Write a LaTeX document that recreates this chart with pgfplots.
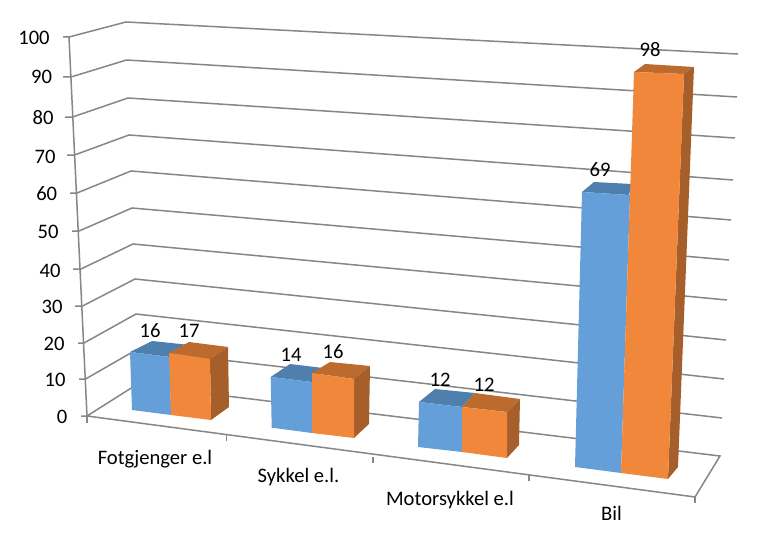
\documentclass[border=0pt]{standalone}
\usepackage{pgfplots}
\pgfplotsset{compat=1.18}
\usepackage{fontspec}
\setmainfont{Carlito}
\definecolor{gridc}{HTML}{868686}
\definecolor{bluef}{HTML}{659FD9}
\definecolor{bluet}{HTML}{4F80AD}
\definecolor{orangef}{HTML}{F1873A}
\definecolor{oranget}{HTML}{BD6A2E}
\definecolor{oranges}{HTML}{A65F2A}
\pgfplotsset{
 gl/.style={draw=gridc,line width=1.5pt,mark=none},
 bf/.style={fill=bluef,draw=none,mark=none},
 bt/.style={fill=bluet,draw=none,mark=none},
 of/.style={fill=orangef,draw=none,mark=none},
 ot/.style={fill=oranget,draw=none,mark=none},
 os/.style={fill=oranges,draw=none,mark=none},
 lab/.style={only marks,mark=none,nodes near coords,point meta=explicit symbolic,
   nodes near coords align={center},
   nodes near coords style={anchor=center,inner sep=0pt,font=\fontsize{20.6}{20.6}\selectfont,text=black}},
}
\begin{document}
\begin{tikzpicture}[x=1pt,y=1pt]
\useasboundingbox (0,0) rectangle (777,535);
\begin{axis}[at={(0,0)},anchor=south west,scale only axis,width=777pt,height=535pt,
  xmin=0,xmax=777,ymin=0,ymax=535,y dir=reverse,hide axis,clip=false]
% walls: one line per value, 100 ... 0
\addplot[gl] coordinates {(63,37) (69,37) (126,22) (738,54)};
\addplot[gl] coordinates {(63,77) (71,77) (126.5,60) (737,97)};
\addplot[gl] coordinates {(65,117) (72.5,117) (128,98) (735,138)};
\addplot[gl] coordinates {(67,155) (74.5,155) (129,135) (733,180)};
\addplot[gl] coordinates {(70,193) (77,193) (131,171) (731,220)};
\addplot[gl] coordinates {(72,231) (79,231) (132,208) (729,260)};
\addplot[gl] coordinates {(73,269) (81,269) (133,244) (727,300)};
\addplot[gl] coordinates {(75,306) (82.5,306) (135,279) (726,340)};
\addplot[gl] coordinates {(78,343) (84,343) (136,314) (724,379)};
\addplot[gl] coordinates {(79,379) (85.5,379) (136,350) (722,418)};
\addplot[gl] coordinates {(81,416) (87,416) (136,385) (720,456) (695,497) (87,416)};
\addplot[gl] coordinates {(69,37) (87,416)};
\addplot[gl] coordinates {(87,416) (87,423)};
\addplot[gl] coordinates {(226.5,435) (226.5,441)};
\addplot[gl] coordinates {(373,457) (373,463)};
\addplot[gl] coordinates {(529,475) (529,481)};
\addplot[gl] coordinates {(695,497) (695,503)};
% Fotgjenger e.l : 16, 17
\addplot[bt] coordinates {(130,352) (152,341) (190,345) (170,357)} --cycle;
\addplot[bf] coordinates {(130,352) (170,357) (171,415) (132,410)} --cycle;
\addplot[ot] coordinates {(169,353) (189,342) (228,347) (210,359)} --cycle;
\addplot[os] coordinates {(210,359) (228,347) (229,407) (211,420)} --cycle;
\addplot[of] coordinates {(169,353) (210,359) (211,420) (171,415)} --cycle;
% Sykkel e.l. : 14, 16
\addplot[bt] coordinates {(270.7,377) (290,364) (323,368) (312,382)} --cycle;
\addplot[bf] coordinates {(270.7,377) (312,382) (312,433) (271.7,427.7)} --cycle;
\addplot[ot] coordinates {(312,373) (330,362) (370,366) (354,379)} --cycle;
\addplot[os] coordinates {(354,379) (370,366) (369,424) (354,438)} --cycle;
\addplot[of] coordinates {(312,373) (354,379) (354,438) (312,433)} --cycle;
% Motorsykkel e.l : 12, 12
\addplot[bt] coordinates {(419,402) (435,389) (475,393) (462,407)} --cycle;
\addplot[bf] coordinates {(419,402) (462,407) (462,452) (418,447)} --cycle;
\addplot[ot] coordinates {(462,407) (475,393) (520,399) (507,412)} --cycle;
\addplot[os] coordinates {(507,412) (520,399) (519,445) (507,458)} --cycle;
\addplot[of] coordinates {(462,407) (507,412) (507,458) (462,452)} --cycle;
% Bil : 69, 98
\addplot[bt] coordinates {(582,192) (594,182) (632,184) (629,195)} --cycle;
\addplot[bf] coordinates {(582,192) (630,195) (621,473) (575,467)} --cycle;
\addplot[ot] coordinates {(634,72) (645,64) (694,67) (684,74)} --cycle;
\addplot[os] coordinates {(684,74) (694,67) (678,467) (668,479)} --cycle;
\addplot[of] coordinates {(634,72) (684,74) (668,479) (621,473)} --cycle;
% value axis labels
\addplot[lab] table[col sep=comma,meta=l] {
x,y,l
34,38,100
41.5,77,90
43,118,80
45,157,70
46.7,194,60
48,232,50
50,270.5,40
52,307,30
54,344,20
55,380,10
62,417,0
};
% data labels
\addplot[lab] table[col sep=comma,meta=l] {
x,y,l
150,331,16
189,331,17
291,355,14
333,352,16
440,380,12
484,385,12
600,170,69
650,50,98
};
% category labels
\addplot[lab] table[col sep=comma,meta=l] {
x,y,l
155,459,Fotgjenger e.l
298.5,477,Sykkel e.l.
450,500,Motorsykkel e.l
611.5,513,Bil
};
\end{axis}
\end{tikzpicture}
\end{document}
